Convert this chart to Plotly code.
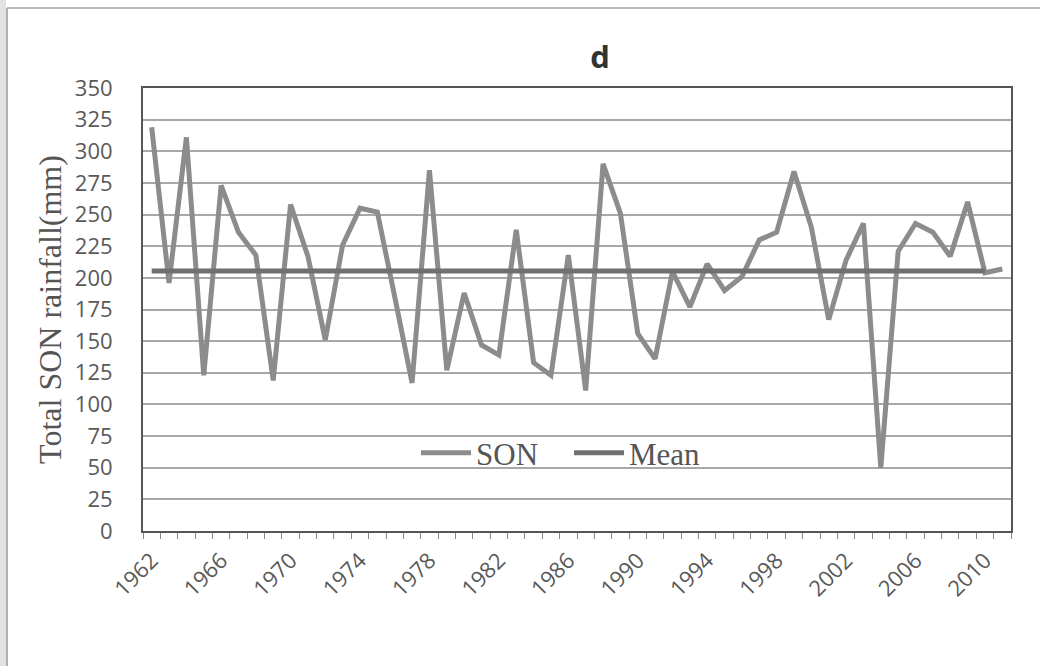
import plotly.graph_objects as go

years = list(range(1962, 2012))
son = [319, 196, 311, 123, 273, 236, 218, 119, 258, 217,
       151, 226, 255, 252, 185, 117, 285, 127, 188, 147,
       139, 238, 133, 123, 218, 111, 290, 251, 156, 136,
       205, 177, 211, 190, 201, 230, 236, 284, 240, 167,
       214, 243, 50, 221, 243, 236, 217, 260, 204, 207]
mean_value = 205.4
mean_years = years[:-1]
mean_vals = [mean_value for _ in mean_years]
y_ticks = list(range(0, 351, 25))
x_ticks = list(range(1962, 2011, 4))

L, R, T, B = 143, 35, 88, 135
W, H = 1046, 666
pw = W - L - R

fig = go.Figure()
fig.add_trace(go.Scatter(x=years, y=son, mode="lines", name="SON",
                         line=dict(color="#8c8c8c", width=5)))
fig.add_trace(go.Scatter(x=mean_years, y=mean_vals, mode="lines", name="Mean",
                         line=dict(color="#707070", width=5)))

def px(x):
    return (x - L) / pw

ph = H - T - B
def py(y):
    return (H - B - y) / ph

fig.update_layout(
    width=W, height=H,
    margin=dict(l=L, r=R, t=T, b=B),
    paper_bgcolor="white", plot_bgcolor="white",
    title=dict(text="<b>d</b>", x=600 / W, xanchor="center", y=1 - 57 / H, yanchor="middle",
               font=dict(family="Open Sans", size=31, color="#333333")),
    legend=dict(orientation="h", x=px(416), xanchor="left", y=py(453), yanchor="middle",
                bgcolor="rgba(0,0,0,0)", font=dict(family="Liberation Serif", size=31, color="#555555"),
                itemwidth=50, tracegroupgap=0, entrywidth=88),
    xaxis=dict(range=[1961.5, 2011.5], tickvals=x_ticks, ticktext=[str(v) for v in x_ticks],
               tickangle=-45, ticks="", showgrid=False, zeroline=False, ticklabelstandoff=6,
               tickfont=dict(family="Open Sans", size=22, color="#595959"),
               showline=True, linecolor="#555555", linewidth=2, mirror=True,
               minor=dict(tick0=1961.5, dtick=1, ticks="outside", ticklen=6, tickcolor="#888888", showgrid=False)),
    yaxis=dict(range=[0, 350], tickvals=y_ticks, ticks="", showgrid=True, gridcolor="#a8a8a8", gridwidth=1.5,
               zeroline=False, showline=True, linecolor="#555555", linewidth=2, mirror=True,
               ticklabelstandoff=24,
               tickfont=dict(family="Open Sans", size=22, color="#595959"),
               title=dict(text="Total SON rainfall(mm)", standoff=4,
                          font=dict(family="Liberation Serif", size=32, color="#555555"))),
    shapes=[
        dict(type="rect", xref="paper", yref="paper", x0=px(0), x1=px(6), y0=py(H), y1=py(0),
             fillcolor="#e2e2e2", line=dict(width=0), layer="below"),
        dict(type="line", xref="paper", yref="paper", x0=px(7), x1=px(7), y0=py(H), y1=py(8),
             line=dict(color="#b0b0b0", width=2)),
        dict(type="line", xref="paper", yref="paper", x0=px(7), x1=px(1040), y0=py(8), y1=py(8),
             line=dict(color="#b8b8b8", width=2)),
    ],
)

fig.write_html("out.html")
